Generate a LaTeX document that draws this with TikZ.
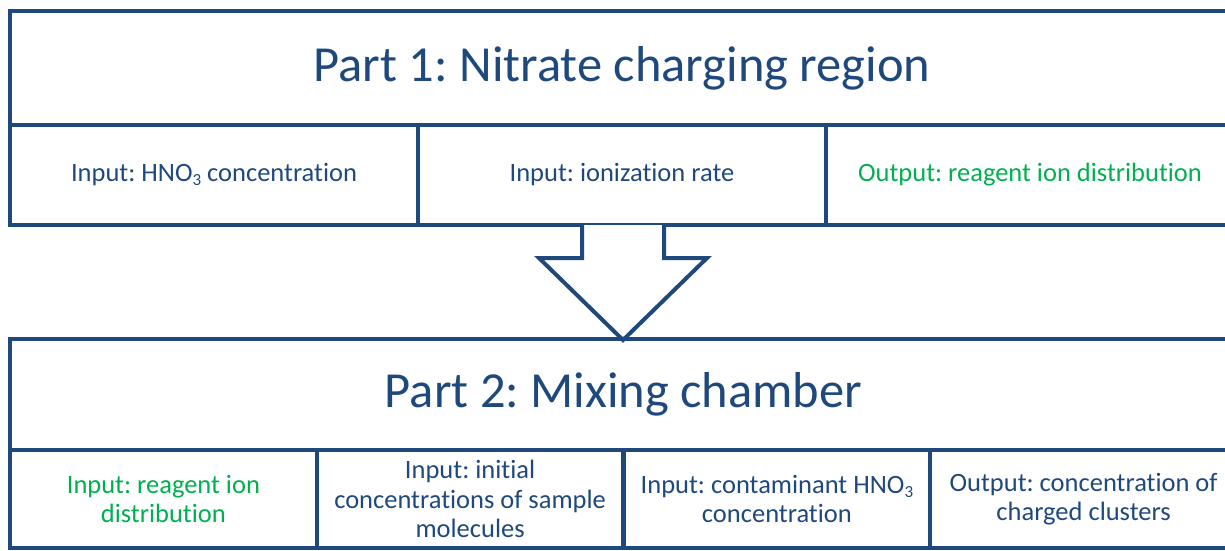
\documentclass[tikz,border=0pt]{standalone}
\usepackage{fontspec}
\setmainfont[Ligatures=NoCommon]{Carlito}
\frenchspacing
\definecolor{lineblue}{HTML}{1F497D}
\definecolor{textblue}{HTML}{1F497D}
\definecolor{outgreen}{HTML}{00B050}
\newcommand{\subthree}{\raisebox{-0.3ex}{\fontsize{17}{17}\selectfont 3}}
\begin{document}
\begin{tikzpicture}[x=1pt,y=-1pt,
  cell/.style={draw=lineblue, line width=4pt, inner sep=0pt, text=textblue, align=center, font=\fontsize{26.5}{29.5}\selectfont\frenchspacing},
  titlecell/.style={draw=lineblue, line width=4pt, inner sep=0pt, text=textblue, font=\fontsize{50.5}{56}\selectfont\frenchspacing},
  green/.style={text=outgreen},
  blockarrow/.style={draw=lineblue, line width=4pt, fill=white, line join=miter}]
\useasboundingbox (0,0) rectangle (1225,550);
\clip (0,0) rectangle (1225,550);
% Part 1
\node[titlecell, minimum width=1224pt, minimum height=114pt] (t1) at (622,68) {Part 1: Nitrate charging region};
\node[cell, minimum width=408pt, minimum height=100pt] (a1) at (214,175) {Input: HNO\subthree{} concentration};
\node[cell, minimum width=408pt, minimum height=100pt] (a2) at (622,175) {Input: ionization rate};
\node[cell, green, minimum width=408pt, minimum height=100pt] (a3) at (1030,175) {Output: reagent ion distribution};
% Part 2
\node[titlecell, minimum width=1227pt, minimum height=111pt] (t2) at (623.5,394.5) {Part 2: Mixing chamber};
\node[cell, green, minimum width=306.75pt, minimum height=98pt] (b1) at (163.4,499) {Input: reagent ion\\distribution};
\node[cell, minimum width=306.75pt, minimum height=98pt] (b2) at (470.1,499) {Input: initial\\concentrations of sample\\molecules};
\node[cell, minimum width=306.75pt, minimum height=98pt] (b3) at (776.9,499) {Input: contaminant HNO\subthree\\concentration};
\node[cell, minimum width=306.75pt, minimum height=98pt] (b4) at (1083.6,499) {Output: concentration of\\charged clusters};
% block arrow from part 1 to part 2
\coordinate (sl) at (582,225);
\coordinate (sr) at (664,225);
\coordinate (tip) at (623,340);
\draw[blockarrow] (sl) -- (582,258) -- (539,258) -- (tip) -- (707,258) -- (664,258) -- (sr);
\end{tikzpicture}
\end{document}
